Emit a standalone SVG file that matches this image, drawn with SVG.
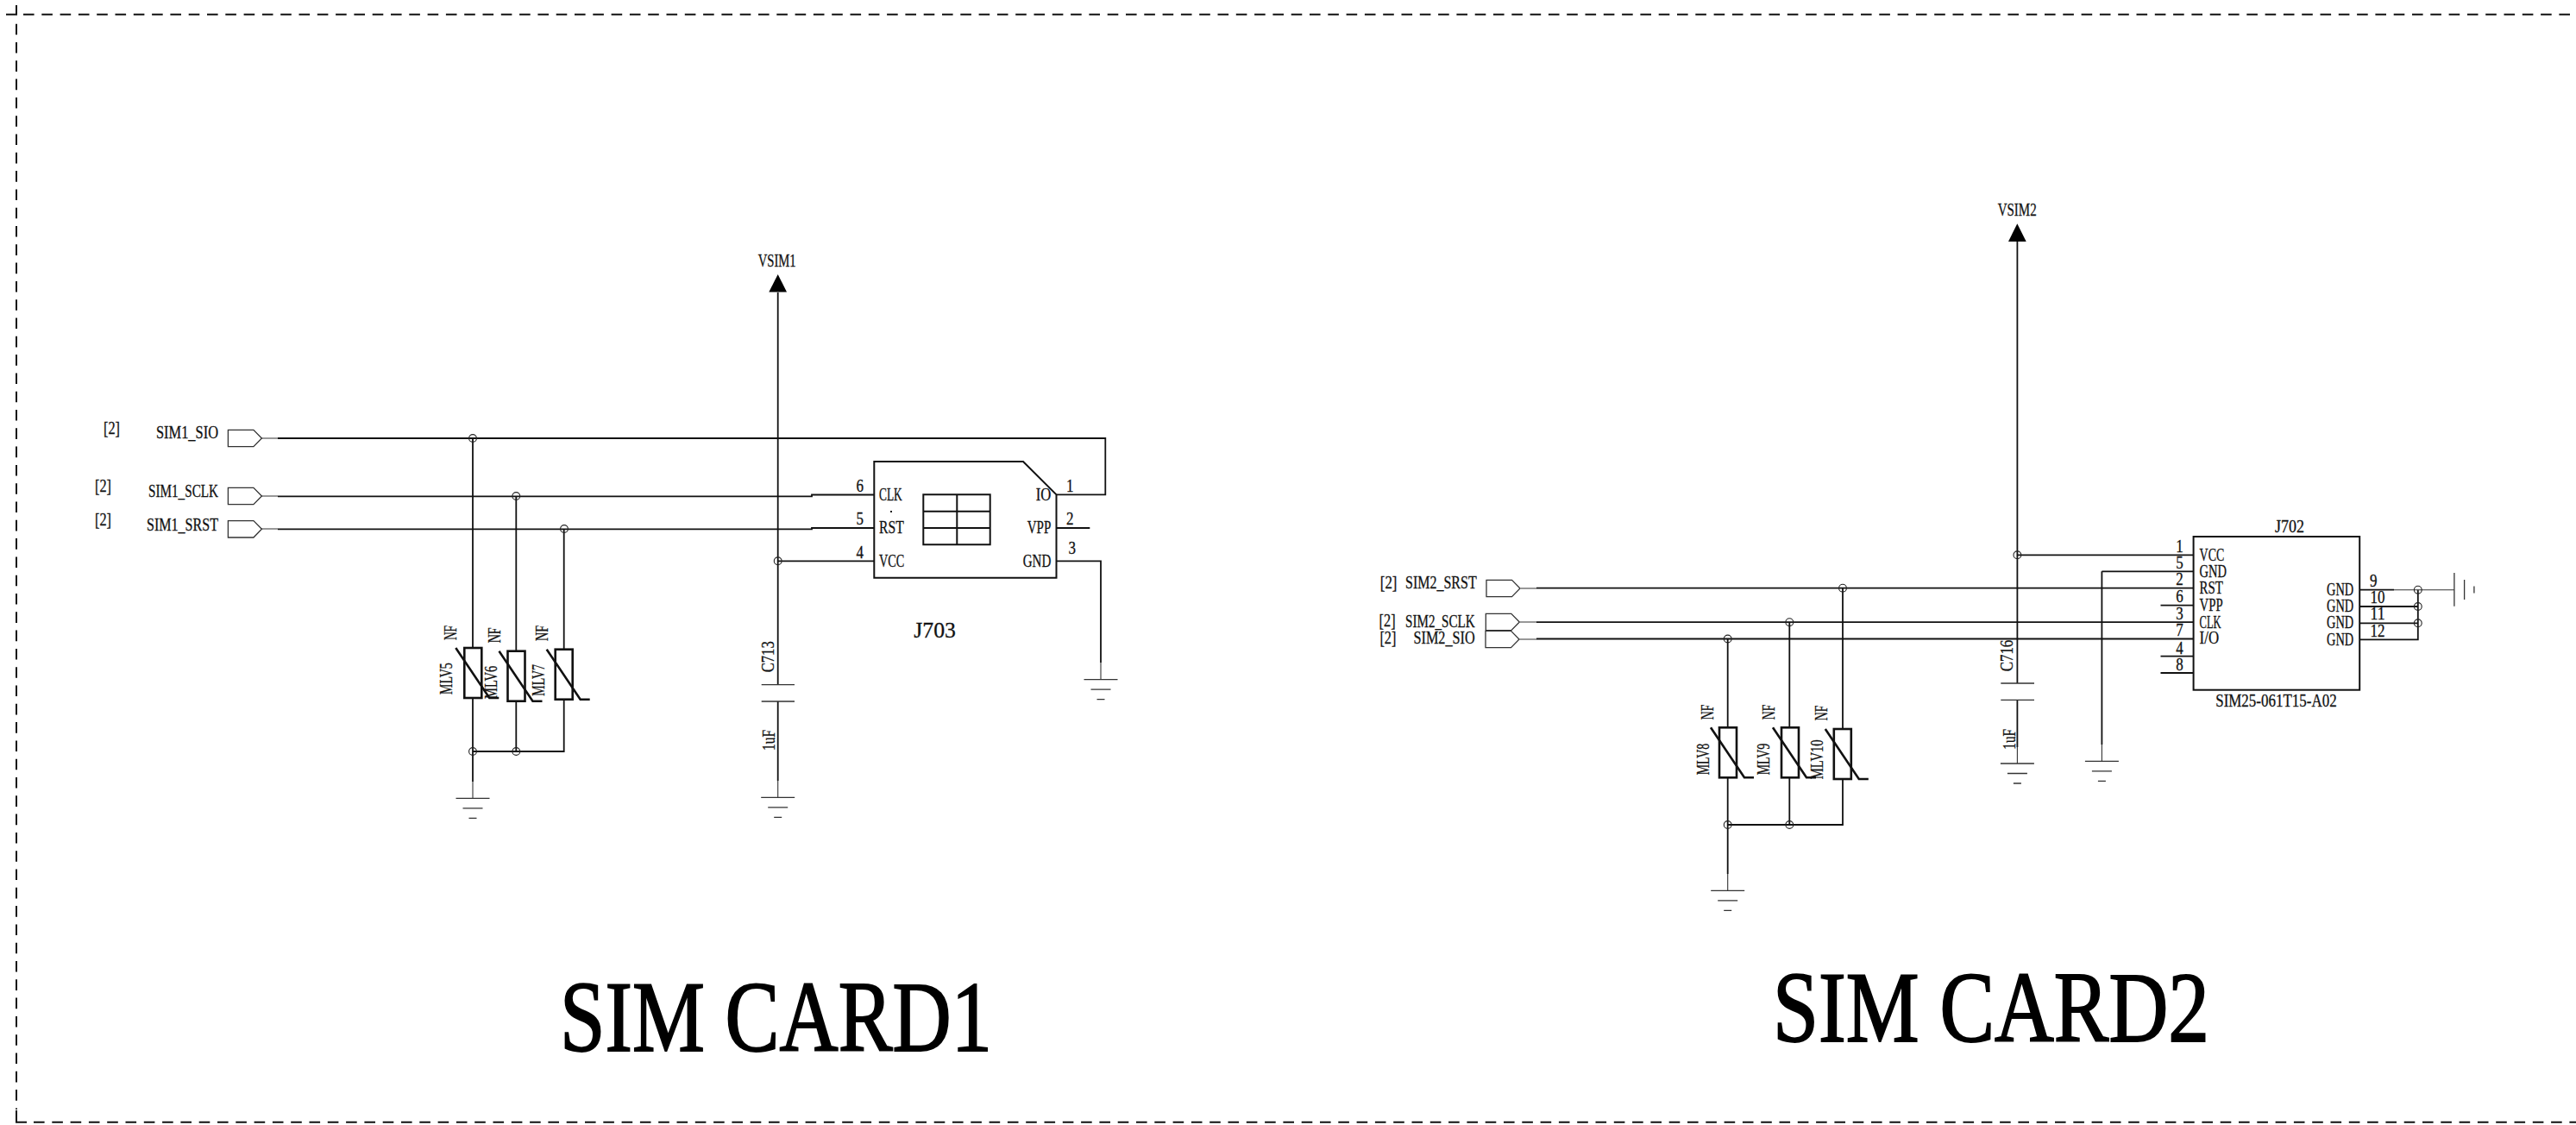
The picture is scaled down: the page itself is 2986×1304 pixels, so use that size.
<svg xmlns="http://www.w3.org/2000/svg" width="2986" height="1304" viewBox="0 0 2986 1304">
<style>
rect.bg{fill:#fff}
text{font-family:"Liberation Serif","Times New Roman",serif;fill:#111}
.s{font-size:20px;stroke:#111;stroke-width:.3}
.m{font-size:20.5px;stroke:#111;stroke-width:.3}
.t{font-size:116px;fill:#000;stroke:#000;stroke-width:1.9}
.w,.th,.b,.g,.j,.p,.d{fill:none;stroke:#111}
.w{stroke-width:1.8}
.th{stroke-width:1.1;stroke:#333}
.b{stroke-width:2.6}
.g{stroke-width:1.3;stroke:#333}
.j{stroke-width:1.1;stroke:#222}
.p{stroke-width:1.3;stroke:#333;fill:#fff}
.d{stroke-width:2;stroke-dasharray:12.6 8.7}
.a{fill:#000;stroke:none}
</style>
<defs>
<g id="gnd"><path class="g" d="M-19.5 0H19.5M-11.5 11.5H11.5M-4.5 23H4.5"/></g>
<g id="mlv"><rect class="b" x="-10" y="0" width="20" height="58"/><path class="b" d="M-20 0L19 58H30"/></g>
<circle id="jn" class="j" r="4.4"/>
<path id="port" class="p" d="M0 -9.7H29.5L39 0L29.5 9.7H0Z"/>
</defs>
<rect class="bg" width="2986" height="1304"/>
<g id="frame">
<path class="d" d="M27 16.7H2986M39 1300.7H2986"/>
<path class="d" d="M19 27.7V1286"/>
<path class="w" style="stroke-width:2" d="M7 16.7H19V6M19 1287V1300.7H31"/>
</g>

<g id="connectors">
<path class="th" d="M303 508H322M303 575H322M303 613H322"/>
<path class="w" d="M322 508H1281.3V573.3H1224.5"/>
<path class="w" d="M322 575.3H941V573.5H1013.3"/>
<path class="w" d="M322 613.3H941V612H1013.3"/>
<path class="w" d="M901.7 339V793.7M901.7 813V905"/><path class="th" d="M901.7 905V924.3"/>
<path class="w" d="M901.7 650.3H1013.3"/>
<path class="w" d="M548 508V751M548 809V906"/><path class="th" d="M548 906V925.3"/>
<path class="w" d="M598.3 575V754.7M598.3 812.7V871"/>
<path class="w" d="M653.7 613V752.7M653.7 811V871H548"/>
<path class="w" d="M1224.5 650.3H1276V768"/><path class="th" d="M1276 768V787.7"/>
<path class="w" d="M1224.5 612H1263.3"/>
<path class="th" d="M1762.7 682H1781M1762 721H1781M1761.5 741H1781"/>
<path class="w" d="M1781 681.7H2542.6M1781 721.2H2542.6M1781 740.5H2542.6"/>
<path class="w" d="M2338.4 280V792M2338.4 811.3V866"/><path class="th" d="M2338.4 866V885"/>
<path class="w" d="M2338.4 643.3H2542.6M2436.4 662.3H2542.6M2436.4 662.3V863"/><path class="th" d="M2436.4 863V882.3"/>
<path class="w" d="M2504.5 701.7H2542.6M2504.5 760.7H2542.6M2504.5 780H2542.6"/>
<path class="w" d="M2002.7 740.5V843.3M2002.7 901.7V1013"/><path class="th" d="M2002.7 1013V1032.3"/>
<path class="w" d="M2074.3 721.2V843.3M2074.3 901.7V956"/>
<path class="w" d="M2136 681.7V845M2136 903.3V956H2002.7"/>
<path class="w" d="M2735.2 683.7H2775M2735.2 703H2802.8M2735.2 722.3H2802.8M2735.2 741.3H2802.8V683.7"/>
<path class="th" d="M2775 683.7H2844.9"/>
</g>

<g id="junctions">
<use href="#jn" x="548" y="508"/><use href="#jn" x="598.3" y="575"/><use href="#jn" x="654" y="613"/>
<use href="#jn" x="548" y="871"/><use href="#jn" x="598.3" y="871"/><use href="#jn" x="901.7" y="650.3"/>
<use href="#jn" x="2136" y="681.7"/><use href="#jn" x="2074.3" y="721.2"/><use href="#jn" x="2002.7" y="740.5"/>
<use href="#jn" x="2002.7" y="956"/><use href="#jn" x="2074.3" y="956"/><use href="#jn" x="2338.4" y="643.3"/>
<use href="#jn" x="2802.8" y="683.7"/><use href="#jn" x="2802.8" y="703"/><use href="#jn" x="2802.8" y="722.3"/>
</g>

<g id="port-sim1-sio"><use href="#port" x="264.4" y="508"/>
<text class="s" x="120" y="503" textLength="19" lengthAdjust="spacingAndGlyphs">[2]</text>
<text class="s" x="181" y="508" textLength="72" lengthAdjust="spacingAndGlyphs">SIM1_SIO</text></g>
<g id="port-sim1-sclk"><use href="#port" x="264.4" y="575"/>
<text class="s" x="110" y="570" textLength="19" lengthAdjust="spacingAndGlyphs">[2]</text>
<text class="s" x="172" y="576" textLength="81" lengthAdjust="spacingAndGlyphs">SIM1_SCLK</text></g>
<g id="port-sim1-srst"><use href="#port" x="264.4" y="613.3"/>
<text class="s" x="110" y="609" textLength="19" lengthAdjust="spacingAndGlyphs">[2]</text>
<text class="s" x="170" y="614.5" textLength="83" lengthAdjust="spacingAndGlyphs">SIM1_SRST</text></g>

<g id="MLV5"><use href="#mlv" x="548.3" y="751"/>
<text class="m" transform="translate(529 742) rotate(-90)" textLength="17" lengthAdjust="spacingAndGlyphs">NF</text>
<text class="m" transform="translate(524.3 805) rotate(-90)" textLength="36.7" lengthAdjust="spacingAndGlyphs">MLV5</text></g>
<g id="MLV6"><use href="#mlv" x="598.5" y="754.7"/>
<text class="m" transform="translate(580 745.3) rotate(-90)" textLength="18" lengthAdjust="spacingAndGlyphs">NF</text>
<text class="m" transform="translate(575.7 810) rotate(-90)" textLength="38.3" lengthAdjust="spacingAndGlyphs">MLV6</text></g>
<g id="MLV7"><use href="#mlv" x="653.7" y="752.7"/>
<text class="m" transform="translate(635 743) rotate(-90)" textLength="18" lengthAdjust="spacingAndGlyphs">NF</text>
<text class="m" transform="translate(630.7 806.7) rotate(-90)" textLength="36.7" lengthAdjust="spacingAndGlyphs">MLV7</text></g>
<g id="gnd-1"><use href="#gnd" x="548" y="925.3"/></g>

<g id="C713"><path class="g" d="M882.7 793.7H921M882.7 813H921"/>
<text class="m" transform="translate(896.7 779.3) rotate(-90)" textLength="36" lengthAdjust="spacingAndGlyphs">C713</text>
<text class="m" transform="translate(898 870) rotate(-90)" textLength="24" lengthAdjust="spacingAndGlyphs">1uF</text></g>
<g id="gnd-2"><use href="#gnd" x="901.7" y="924.3"/></g>
<g id="VSIM1"><path class="a" d="M901.7 318L912 338.6H891.3Z"/>
<text class="s" x="878.7" y="309" textLength="44" lengthAdjust="spacingAndGlyphs">VSIM1</text></g>

<g id="J703">
<path class="w" style="stroke-width:2" d="M1013.3 535H1186L1224.5 573.3V669.7H1013.3Z"/>
<path class="w" style="stroke-width:2" d="M1070.3 573.3H1147.7V631.3H1070.3ZM1109.3 573.3V631.3M1070.3 592.7H1147.7M1070.3 612H1147.7"/>
<rect x="1032" y="592" width="2" height="2" fill="#222"/>
<text class="s" x="992.5" y="570" textLength="8.5" lengthAdjust="spacingAndGlyphs">6</text>
<text class="s" x="992.5" y="608.3" textLength="8.5" lengthAdjust="spacingAndGlyphs">5</text>
<text class="s" x="992.5" y="647" textLength="8.5" lengthAdjust="spacingAndGlyphs">4</text>
<text class="s" x="1019" y="580.3" textLength="26.7" lengthAdjust="spacingAndGlyphs">CLK</text>
<text class="s" x="1019" y="618.3" textLength="28.7" lengthAdjust="spacingAndGlyphs">RST</text>
<text class="s" x="1019" y="657.3" textLength="29.3" lengthAdjust="spacingAndGlyphs">VCC</text>
<text class="s" x="1200.7" y="580.3" textLength="17.6" lengthAdjust="spacingAndGlyphs">IO</text>
<text class="s" x="1190.7" y="618" textLength="27.6" lengthAdjust="spacingAndGlyphs">VPP</text>
<text class="s" x="1185.7" y="657" textLength="32.6" lengthAdjust="spacingAndGlyphs">GND</text>
<text class="s" x="1236" y="570" textLength="8.5" lengthAdjust="spacingAndGlyphs">1</text>
<text class="s" x="1236" y="608" textLength="8.5" lengthAdjust="spacingAndGlyphs">2</text>
<text class="s" x="1238.5" y="642.3" textLength="8.5" lengthAdjust="spacingAndGlyphs">3</text>
<text x="1059.3" y="738.7" font-size="26" stroke="#111" stroke-width=".3" textLength="48.7" lengthAdjust="spacingAndGlyphs">J703</text>
</g>
<g id="gnd-3"><use href="#gnd" x="1276" y="787.7"/></g>
<g id="title-1"><text class="t" x="649" y="1218.3" textLength="501" lengthAdjust="spacingAndGlyphs">SIM CARD1</text></g>

<g id="port-sim2-srst"><use href="#port" x="1723" y="682"/>
<text class="s" x="1599.8" y="682" textLength="19.7" lengthAdjust="spacingAndGlyphs">[2]</text>
<text class="s" x="1629" y="682" textLength="82.7" lengthAdjust="spacingAndGlyphs">SIM2_SRST</text></g>
<g id="port-sim2-sclk"><use href="#port" x="1722.3" y="721"/>
<text class="s" x="1598.6" y="726" textLength="19" lengthAdjust="spacingAndGlyphs">[2]</text>
<text class="s" x="1629" y="727.3" textLength="80.7" lengthAdjust="spacingAndGlyphs">SIM2_SCLK</text></g>
<g id="port-sim2-sio"><use href="#port" x="1722" y="741"/>
<text class="s" x="1599.4" y="746" textLength="19" lengthAdjust="spacingAndGlyphs">[2]</text>
<text class="s" x="1638.5" y="746" textLength="71.2" lengthAdjust="spacingAndGlyphs">SIM2_SIO</text></g>

<g id="MLV8"><use href="#mlv" x="2003" y="843.3"/>
<text class="m" transform="translate(1985.7 834.3) rotate(-90)" textLength="17.6" lengthAdjust="spacingAndGlyphs">NF</text>
<text class="m" transform="translate(1981 898.3) rotate(-90)" textLength="36.6" lengthAdjust="spacingAndGlyphs">MLV8</text></g>
<g id="MLV9"><use href="#mlv" x="2075" y="843.3"/>
<text class="m" transform="translate(2056.5 834.3) rotate(-90)" textLength="17.6" lengthAdjust="spacingAndGlyphs">NF</text>
<text class="m" transform="translate(2051.3 898.3) rotate(-90)" textLength="36.6" lengthAdjust="spacingAndGlyphs">MLV9</text></g>
<g id="MLV10"><use href="#mlv" x="2135.8" y="845"/>
<text class="m" transform="translate(2117.8 835.3) rotate(-90)" textLength="17.6" lengthAdjust="spacingAndGlyphs">NF</text>
<text class="m" transform="translate(2112.6 903.3) rotate(-90)" textLength="46" lengthAdjust="spacingAndGlyphs">MLV10</text></g>
<g id="gnd-4"><use href="#gnd" x="2002.7" y="1032.3"/></g>

<g id="C716"><path class="g" d="M2319.3 792H2358M2319.3 811.3H2358"/>
<text class="m" transform="translate(2332.7 778.3) rotate(-90)" textLength="36.6" lengthAdjust="spacingAndGlyphs">C716</text>
<text class="m" transform="translate(2336.2 868.7) rotate(-90)" textLength="23.7" lengthAdjust="spacingAndGlyphs">1uF</text></g>
<g id="gnd-5"><use href="#gnd" x="2338.4" y="885"/></g>
<g id="gnd-6"><use href="#gnd" x="2436.4" y="882.3"/></g>
<g id="VSIM2"><path class="a" d="M2338.3 259.3L2348.7 280H2328Z"/>
<text class="s" x="2315.7" y="250" textLength="45" lengthAdjust="spacingAndGlyphs">VSIM2</text></g>

<g id="J702">
<rect class="w" style="stroke-width:2" x="2542.6" y="622" width="192.6" height="177.7"/>
<text class="s" x="2637" y="616.7" textLength="34" lengthAdjust="spacingAndGlyphs">J702</text>
<text class="s" x="2568.2" y="818.7" textLength="140.5" lengthAdjust="spacingAndGlyphs">SIM25-061T15-A02</text>
<text class="s" x="2522.3" y="640" textLength="8.5" lengthAdjust="spacingAndGlyphs">1</text>
<text class="s" x="2522.3" y="659.3" textLength="8.5" lengthAdjust="spacingAndGlyphs">5</text>
<text class="s" x="2522.3" y="678.3" textLength="8.5" lengthAdjust="spacingAndGlyphs">2</text>
<text class="s" x="2522.3" y="698.3" textLength="8.5" lengthAdjust="spacingAndGlyphs">6</text>
<text class="s" x="2522.3" y="718.3" textLength="8.5" lengthAdjust="spacingAndGlyphs">3</text>
<text class="s" x="2522.3" y="737.3" textLength="8.5" lengthAdjust="spacingAndGlyphs">7</text>
<text class="s" x="2522.3" y="757.7" textLength="8.5" lengthAdjust="spacingAndGlyphs">4</text>
<text class="s" x="2522.3" y="776.7" textLength="8.5" lengthAdjust="spacingAndGlyphs">8</text>
<text class="s" x="2549.6" y="650" textLength="28.6" lengthAdjust="spacingAndGlyphs">VCC</text>
<text class="s" x="2549.6" y="669.3" textLength="31.4" lengthAdjust="spacingAndGlyphs">GND</text>
<text class="s" x="2549.6" y="688.3" textLength="27.4" lengthAdjust="spacingAndGlyphs">RST</text>
<text class="s" x="2549.6" y="708.3" textLength="27" lengthAdjust="spacingAndGlyphs">VPP</text>
<text class="s" x="2549.6" y="728.3" textLength="25" lengthAdjust="spacingAndGlyphs">CLK</text>
<text class="s" x="2549.6" y="746" textLength="22.5" lengthAdjust="spacingAndGlyphs">I/O</text>
<text class="s" x="2697" y="690.3" textLength="31.2" lengthAdjust="spacingAndGlyphs">GND</text>
<text class="s" x="2697" y="709.3" textLength="31.2" lengthAdjust="spacingAndGlyphs">GND</text>
<text class="s" x="2697" y="728.3" textLength="31.2" lengthAdjust="spacingAndGlyphs">GND</text>
<text class="s" x="2697" y="748.3" textLength="31.2" lengthAdjust="spacingAndGlyphs">GND</text>
<text class="s" x="2747" y="680" textLength="8.5" lengthAdjust="spacingAndGlyphs">9</text>
<text class="s" x="2747.5" y="699.3" textLength="17" lengthAdjust="spacingAndGlyphs">10</text>
<text class="s" x="2747.5" y="718.3" textLength="17" lengthAdjust="spacingAndGlyphs">11</text>
<text class="s" x="2747.5" y="738" textLength="17" lengthAdjust="spacingAndGlyphs">12</text>
</g>
<g id="gnd-7"><path class="g" d="M2844.9 664V702.7M2856.6 672V695M2867.9 679.5V687.5"/></g>
<g id="title-2"><text class="t" x="2055" y="1206.7" textLength="506" lengthAdjust="spacingAndGlyphs">SIM CARD2</text></g>
</svg>
